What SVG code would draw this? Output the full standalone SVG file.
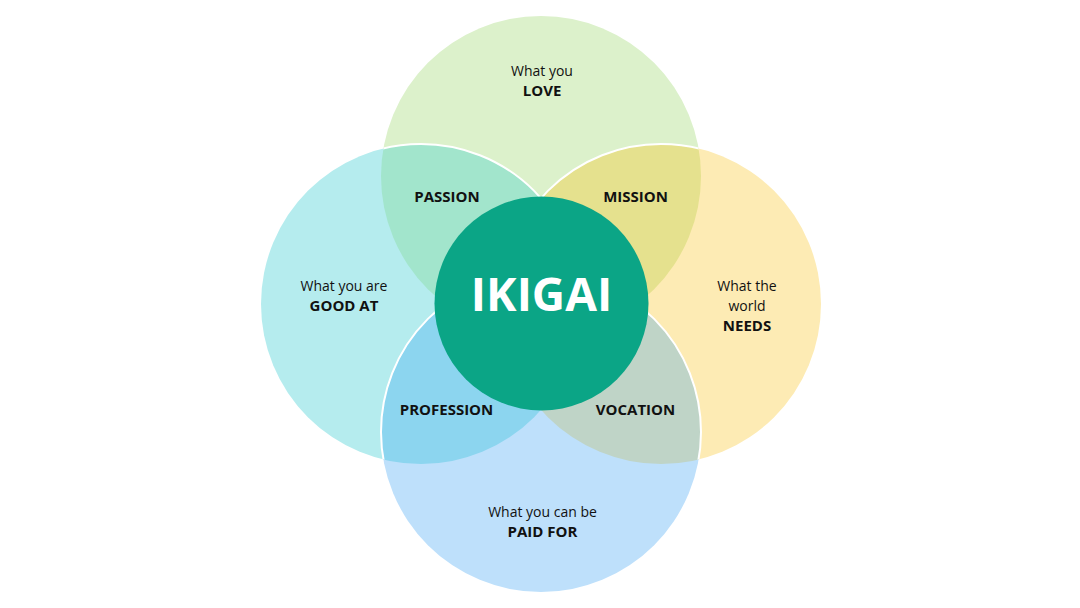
<svg xmlns="http://www.w3.org/2000/svg" width="1080" height="608" viewBox="0 0 1080 608">
<defs>
<clipPath id="cTop"><circle cx="541" cy="176" r="160"/></clipPath>
<clipPath id="cLeft"><circle cx="421" cy="304" r="160"/></clipPath>
<clipPath id="cRight"><circle cx="661" cy="304" r="160"/></clipPath>
<clipPath id="cBottom"><circle cx="541" cy="432" r="160"/></clipPath>
</defs>
<style>
.t{font-family:"Open Sans","Liberation Sans",sans-serif;font-size:14px;fill:#111111;text-anchor:middle}
.b{font-weight:bold;font-size:15px}
.edge{fill:none;stroke:#ffffff;stroke-width:2}
</style>
<rect width="1080" height="608" fill="#ffffff"/>
<g id="love"><circle cx="541" cy="176" r="160" fill="#dcf1cb"/></g>
<g id="good-at"><circle cx="421" cy="304" r="160" fill="#b5ecee"/></g>
<g id="needs"><circle cx="661" cy="304" r="160" fill="#fdebb4"/></g>
<g id="paid-for"><circle cx="541" cy="432" r="160" fill="#bee0fb"/></g>
<g id="passion"><circle cx="421" cy="304" r="160" fill="#a2e5cc" clip-path="url(#cTop)"/></g>
<g id="mission"><circle cx="661" cy="304" r="160" fill="#e5e18e" clip-path="url(#cTop)"/></g>
<g id="profession"><circle cx="421" cy="304" r="160" fill="#8cd5ef" clip-path="url(#cBottom)"/></g>
<g id="vocation"><circle cx="661" cy="304" r="160" fill="#bfd4c7" clip-path="url(#cBottom)"/></g>
<g id="edges">
<circle class="edge" cx="421" cy="304" r="160" clip-path="url(#cTop)"/>
<circle class="edge" cx="661" cy="304" r="160" clip-path="url(#cTop)"/>
<circle class="edge" cx="541" cy="432" r="160" clip-path="url(#cLeft)"/>
<circle class="edge" cx="541" cy="432" r="160" clip-path="url(#cRight)"/>
</g>
<g id="ikigai"><circle cx="541.5" cy="303.5" r="107" fill="#0ba586"/>
<text class="t b" x="541.5" y="311" style="font-size:46px;fill:#ffffff">IKIGAI</text></g>
<g id="labels">
<text class="t" x="542" y="76">What you</text>
<text class="t b" x="542" y="96">LOVE</text>
<text class="t b" x="447" y="202">PASSION</text>
<text class="t b" x="635.5" y="202">MISSION</text>
<text class="t" x="344" y="291">What you are</text>
<text class="t b" x="344" y="311">GOOD AT</text>
<text class="t" x="747" y="291">What the</text>
<text class="t" x="747" y="311">world</text>
<text class="t b" x="747" y="331">NEEDS</text>
<text class="t b" x="446.5" y="415">PROFESSION</text>
<text class="t b" x="635.5" y="415">VOCATION</text>
<text class="t" x="542.5" y="517">What you can be</text>
<text class="t b" x="542.5" y="537">PAID FOR</text>
</g>
</svg>
